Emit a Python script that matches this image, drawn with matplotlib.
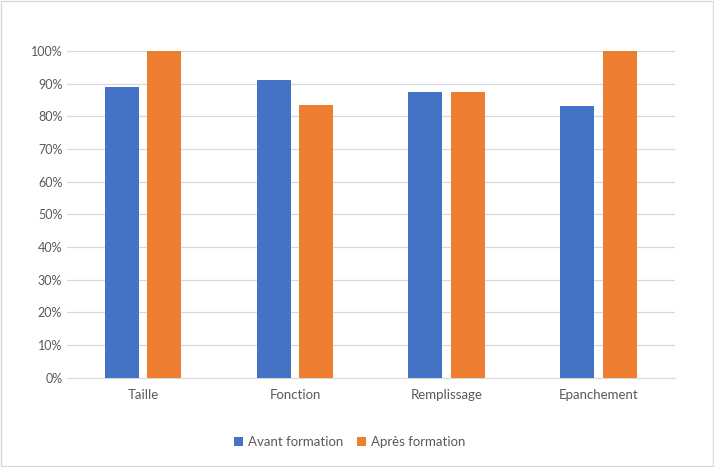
import numpy as np
import matplotlib
matplotlib.use("Agg")
import matplotlib.pyplot as plt
from matplotlib.ticker import PercentFormatter

categories = ["Taille", "Fonction", "Remplissage", "Epanchement"]
avant = [89, 91, 87.5, 83]
apres = [100, 83.5, 87.5, 100]

plt.rcParams["font.family"] = ["Lato", "DejaVu Sans"]

fig = plt.figure(figsize=(7.14, 4.67), dpi=100)
ax = fig.add_axes([0.094, 0.191, 0.851, 0.70])

x = np.arange(len(categories))
w = 0.224
ax.bar(x - 0.141, avant, w, color="#4472C4", label="Avant formation", zorder=3)
ax.bar(x + 0.141, apres, w, color="#ED7D31", label="Après formation", zorder=3)

ax.set_xlim(-0.5, len(categories) - 0.5)
ax.set_ylim(0, 100)
ax.set_yticks(np.arange(0, 101, 10))
ax.yaxis.set_major_formatter(PercentFormatter(decimals=0))
ax.set_xticks(x)
ax.set_xticklabels(categories)
ax.grid(axis="y", color="#D9D9D9", linewidth=0.9, zorder=0)
for s in ["top", "right", "left"]:
    ax.spines[s].set_visible(False)
ax.spines["bottom"].set_color("#D9D9D9")
ax.tick_params(axis="both", length=0, colors="#595959", labelsize=9)
ax.tick_params(axis="x", pad=8, labelsize=9.5)

fig.legend(loc="center", bbox_to_anchor=(0.49, 0.053), ncol=2, frameon=False,
           fontsize=9.5, handlelength=0.7, handleheight=0.7, columnspacing=1.0,
           handletextpad=0.4, labelcolor="#595959")

border = plt.Rectangle((0.002, 0.002), 0.996, 0.996, transform=fig.transFigure,
                       fill=False, edgecolor="#D9D9D9", linewidth=1)
fig.patches.append(border)

fig.savefig("out.png", dpi=100)
